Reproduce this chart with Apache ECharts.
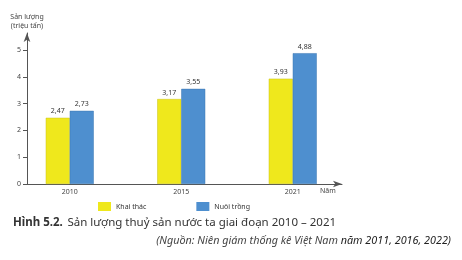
<!DOCTYPE html>
<html><head><meta charset="utf-8">
<script src="https://cdn.jsdelivr.net/npm/echarts@6/dist/echarts.min.js"></script>
<style>html,body{margin:0;padding:0;background:#fff}#c{width:462px;height:260px}</style>
</head><body><div id="c"></div>
<script>
const years = ['2010', '2015', '2021'];
const khaiThac = [2.47, 3.17, 3.93];
const nuoiTrong = [2.73, 3.55, 4.88];
const yTicks = [0, 1, 2, 3, 4, 5];
const seriesNames = ['Khai thác', 'Nuôi trồng'];

const FONT = '"Noto Sans", sans-serif';
const fmt = v => String(v.value !== undefined ? v.value : v).replace('.', ',');
const chart = echarts.init(document.getElementById('c'), null, {renderer: 'canvas'});
chart.setOption({
  backgroundColor: '#ffffff',
  animation: false,
  textStyle: {fontFamily: FONT},
  title: [{
    left: 8, top: 209,
    text: '{b|Hình 5.2.} {n|Sản lượng thuỷ sản nước ta giai đoạn 2010 – 2021}',
    textStyle: {fontWeight: 'normal', rich: {
      b: {fontFamily: FONT, fontWeight: 'bold', fontSize: 11.5, color: '#333'},
      n: {fontFamily: FONT, fontWeight: 'normal', fontSize: 11.5, color: '#333'}
    }}
  }, {
    right: 6, top: 230,
    text: '{i|(Nguồn: Niên giám thống kê Việt Nam }{u|năm 2011, 2016, 2022)}',
    textStyle: {fontWeight: 'normal', rich: {
      i: {fontFamily: FONT, fontStyle: 'italic', fontWeight: 'normal', fontSize: 10.8, color: '#444'},
      u: {fontFamily: FONT, fontStyle: 'italic', fontWeight: 'normal', fontSize: 10.8, color: '#222'}
    }}
  }],
  legend: {
    left: 93, top: 197,
    itemWidth: 13, itemHeight: 9, itemGap: 50,
    icon: 'rect',
    itemStyle: {borderWidth: 0},
    textStyle: {fontSize: 7, color: '#333', fontFamily: FONT},
    data: seriesNames
  },
  grid: [
    {left: 14, top: 50, width: 334.5, height: 134},
    {left: 27, top: 33, width: 315, height: 151}
  ],
  xAxis: [{
    gridIndex: 0, type: 'category', data: years,
    axisLine: {show: false}, axisTick: {show: false},
    axisLabel: {fontSize: 7, color: '#444', margin: 4}
  }, {
    gridIndex: 1, type: 'value', min: 0, max: 1,
    axisLine: {show: true, symbol: ['none', 'arrow'], symbolSize: [5, 9], lineStyle: {color: '#555', width: 1}},
    axisTick: {show: false}, axisLabel: {show: false}, splitLine: {show: false},
    name: 'Năm', nameLocation: 'end', nameGap: -22,
    nameTextStyle: {fontSize: 7, color: '#444', padding: [3, 0, 0, 0], verticalAlign: 'top'}
  }],
  yAxis: [{
    gridIndex: 0, type: 'value', min: 0, max: 5, interval: 1, offset: -13,
    axisLine: {show: false},
    axisTick: {show: true, length: 4, lineStyle: {color: '#555'}},
    axisLabel: {fontSize: 7, color: '#444', margin: 6},
    splitLine: {show: false}
  }, {
    gridIndex: 1, type: 'value', min: 0, max: 1,
    axisLine: {show: true, symbol: ['none', 'arrow'], symbolSize: [5, 9], lineStyle: {color: '#555', width: 1}},
    axisTick: {show: false}, axisLabel: {show: false}, splitLine: {show: false},
    name: 'Sản lượng\n(triệu tấn)', nameLocation: 'end', nameGap: 3,
    nameTextStyle: {fontSize: 7, color: '#444', lineHeight: 9, align: 'center'}
  }],
  series: [{
    name: seriesNames[0], type: 'bar', xAxisIndex: 0, yAxisIndex: 0,
    data: khaiThac, barWidth: 24, barGap: '0%',
    itemStyle: {color: '#EFE81C', borderColor: '#C9C21A', borderWidth: 0.5},
    label: {show: true, position: 'top', fontSize: 7, color: '#333', distance: 3, formatter: fmt}
  }, {
    name: seriesNames[1], type: 'bar', xAxisIndex: 0, yAxisIndex: 0,
    data: nuoiTrong, barWidth: 24, barGap: '0%',
    itemStyle: {color: '#4E8FCF', borderColor: '#3F78B2', borderWidth: 0.5},
    label: {show: true, position: 'top', fontSize: 7, color: '#333', distance: 3, formatter: fmt}
  }]
});
</script></body></html>
